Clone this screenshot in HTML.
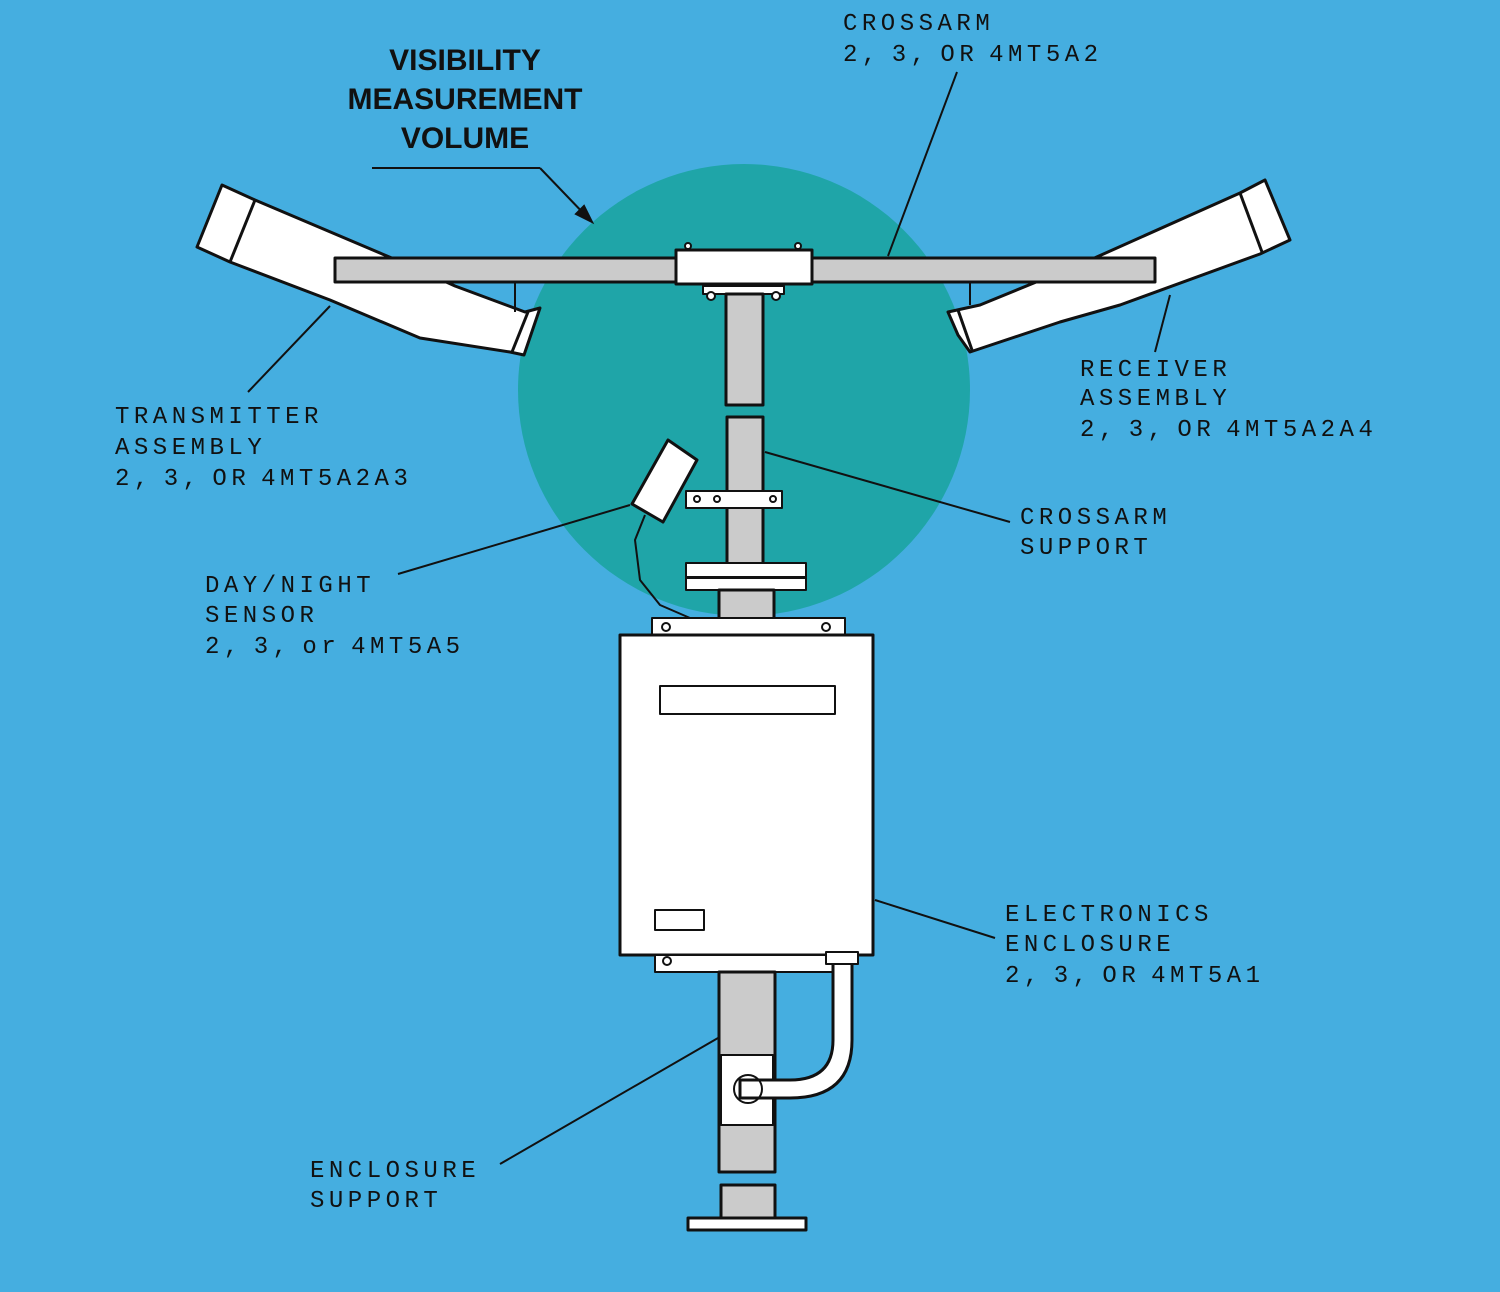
<!DOCTYPE html>
<html><head><style>
html,body{margin:0;padding:0;background:#45aee0;}
svg{display:block}
.l{font-family:"Liberation Mono","DejaVu Sans Mono",monospace;font-size:24px;fill:#111;letter-spacing:4.5px;word-spacing:-8px}
.t{font-family:"Liberation Sans",sans-serif;font-weight:bold;font-size:30px;fill:#111}
</style></head><body>
<svg width="1500" height="1292" viewBox="0 0 1500 1292" xmlns="http://www.w3.org/2000/svg">
<rect width="1500" height="1292" fill="#45aee0"/>
<circle cx="744" cy="390" r="226" fill="#1fa5a8"/>
<g stroke="#111" stroke-width="3" stroke-linejoin="round">
<polygon points="222,185 255,200 420,270 455,286 525,312 540,308 524,355 510,352 420,338 330,300 230,262 197,247" fill="#fff"/>
<line x1="255" y1="200" x2="230" y2="262"/>
<line x1="528" y1="312" x2="512" y2="352"/>
<line x1="515" y1="282" x2="515" y2="312" stroke-width="2"/>
<polygon points="1265,180 1290,240 1260,254 1120,305 1060,322 970,352 958,335 948,312 980,305 1090,260 1240,193" fill="#fff"/>
<line x1="1240" y1="193" x2="1262" y2="252"/>
<line x1="958" y1="310" x2="972" y2="350"/>
<line x1="970" y1="282" x2="970" y2="305" stroke-width="2"/>
<rect x="335" y="258" width="820" height="24" fill="#cbcbcb"/>
<rect x="676" y="250" width="136" height="34" fill="#fff"/>
<circle cx="688" cy="246" r="3" fill="#fff" stroke-width="2"/>
<circle cx="798" cy="246" r="3" fill="#fff" stroke-width="2"/>
<rect x="703" y="286" width="81" height="8" fill="#fff" stroke-width="2"/>
<circle cx="711" cy="296" r="4" fill="#fff" stroke-width="2"/>
<circle cx="776" cy="296" r="4" fill="#fff" stroke-width="2"/>
<rect x="726" y="294" width="37" height="111" fill="#cbcbcb"/>
<rect x="727" y="417" width="36" height="148" fill="#cbcbcb"/>
<rect x="686" y="491" width="96" height="17" fill="#fff" stroke-width="2"/>
<circle cx="697" cy="499" r="3" fill="none" stroke-width="2"/>
<circle cx="717" cy="499" r="3" fill="none" stroke-width="2"/>
<circle cx="773" cy="499" r="3" fill="none" stroke-width="2"/>
<rect x="686" y="563" width="120" height="14" fill="#fff" stroke-width="2"/>
<rect x="686" y="578" width="120" height="12" fill="#fff" stroke-width="2"/>
<rect x="719" y="590" width="55" height="32" fill="#cbcbcb"/>
<polygon points="668,440 697,460 663,522 632,504" fill="#fff"/>
<polyline points="645,515 635,540 640,580 660,605 690,618" fill="none" stroke-width="2"/>
<rect x="652" y="618" width="193" height="18" fill="#fff" stroke-width="2"/>
<circle cx="666" cy="627" r="4" fill="none" stroke-width="2"/>
<circle cx="826" cy="627" r="4" fill="none" stroke-width="2"/>
<rect x="620" y="635" width="253" height="320" fill="#fff"/>
<rect x="660" y="686" width="175" height="28" fill="#fff" stroke-width="2"/>
<rect x="655" y="910" width="49" height="20" fill="#fff" stroke-width="2"/>
<rect x="655" y="955" width="195" height="17" fill="#fff" stroke-width="2"/>
<circle cx="667" cy="961" r="4" fill="none" stroke-width="2"/>
<rect x="719" y="972" width="56" height="200" fill="#cbcbcb"/>
<rect x="721" y="1055" width="52" height="70" fill="#fff" stroke-width="2"/>
<rect x="721" y="1185" width="54" height="33" fill="#cbcbcb"/>
<rect x="688" y="1218" width="118" height="12" fill="#fff"/>
<path d="M833,962 L833,1040 Q833,1080 790,1080 L740,1080 L740,1098 L790,1098 Q852,1098 852,1040 L852,962 Z" fill="#fff"/>
<rect x="826" y="952" width="32" height="12" fill="#fff" stroke-width="2"/>
<circle cx="748" cy="1089" r="14" fill="none" stroke-width="2"/>
</g>
<g stroke="#111" stroke-width="2" fill="none">
<line x1="372" y1="168" x2="540" y2="168"/>
<path d="M540,168 L588,218"/>
<polygon points="592,222 576,214 584,206" fill="#111"/>
<line x1="957" y1="72" x2="888" y2="256"/>
<line x1="330" y1="306" x2="248" y2="392"/>
<line x1="1170" y1="295" x2="1155" y2="352"/>
<line x1="765" y1="452" x2="1010" y2="522"/>
<line x1="630" y1="505" x2="398" y2="574"/>
<line x1="875" y1="900" x2="995" y2="938"/>
<line x1="718" y1="1038" x2="500" y2="1164"/>
</g>
<text class="t" x="465" y="70" text-anchor="middle">VISIBILITY</text>
<text class="t" x="465" y="109" text-anchor="middle">MEASUREMENT</text>
<text class="t" x="465" y="148" text-anchor="middle">VOLUME</text>
<text class="l" x="843" y="30">CROSSARM</text>
<text class="l" x="843" y="61">2, 3, OR 4MT5A2</text>
<text class="l" x="115" y="423">TRANSMITTER</text>
<text class="l" x="115" y="454">ASSEMBLY</text>
<text class="l" x="115" y="485">2, 3, OR 4MT5A2A3</text>
<text class="l" x="1080" y="376">RECEIVER</text>
<text class="l" x="1080" y="405">ASSEMBLY</text>
<text class="l" x="1080" y="436">2, 3, OR 4MT5A2A4</text>
<text class="l" x="1020" y="524">CROSSARM</text>
<text class="l" x="1020" y="554">SUPPORT</text>
<text class="l" x="205" y="592">DAY/NIGHT</text>
<text class="l" x="205" y="622">SENSOR</text>
<text class="l" x="205" y="653">2, 3, or 4MT5A5</text>
<text class="l" x="1005" y="921">ELECTRONICS</text>
<text class="l" x="1005" y="951">ENCLOSURE</text>
<text class="l" x="1005" y="982">2, 3, OR 4MT5A1</text>
<text class="l" x="310" y="1177">ENCLOSURE</text>
<text class="l" x="310" y="1207">SUPPORT</text>
</svg>
</body></html>
